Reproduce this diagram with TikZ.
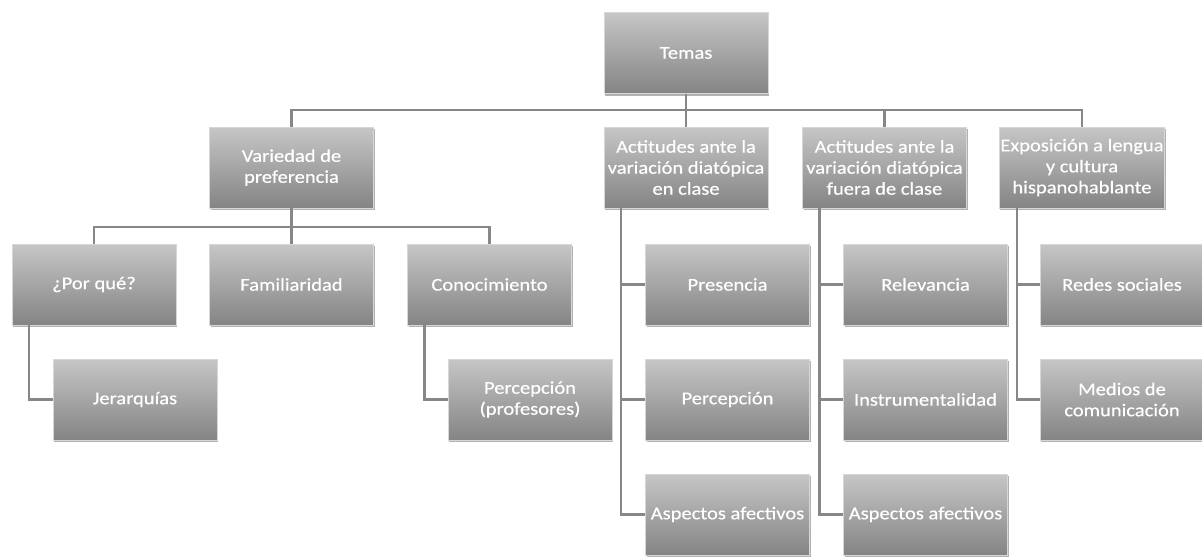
\documentclass[tikz,border=0pt]{standalone}
\usepackage{fontspec}
\setmainfont{Carlito}
\newfontfamily\boxfont[FakeStretch=1.14,FakeBold=0.5]{Carlito}
\usetikzlibrary{shadows}
\definecolor{boxtop}{RGB}{198,198,198}
\definecolor{boxbot}{RGB}{132,132,132}
\definecolor{linegray}{RGB}{135,135,135}
\tikzset{
  topic/.style={rectangle, minimum width=164pt, minimum height=81pt, inner sep=1pt,
    align=center, top color=boxtop, bottom color=boxbot,
    draw=boxtop!70!white, line width=0.4pt, text=white,
    font=\boxfont\fontsize{18}{21}\selectfont,
    drop shadow={shadow xshift=1pt, shadow yshift=-2pt, opacity=0.3, fill=black}},
  link/.style={draw=linegray, line width=2.4pt}
}
\begin{document}
\begin{tikzpicture}[x=1pt,y=-1pt]
\useasboundingbox[fill=white] (0,0) rectangle (1202,557);
% level 0
\node[topic] (temas) at (686,53) {Temas};
% level 1
\node[topic] (var) at (291.5,167.5) {Variedad de\\preferencia};
\node[topic] (acl) at (686,167.5) {Actitudes ante la\\variación diatópica\\en clase};
\node[topic] (afu) at (884.5,167.5) {Actitudes ante la\\variación diatópica\\fuera de clase};
\node[topic] (expo) at (1082,167.5) {Exposición a lengua\\y cultura\\hispanohablante};
% level 2 left
\node[topic] (pq) at (94,284.5) {¿Por qué?};
\node[topic] (fam) at (291.5,284.5) {Familiaridad};
\node[topic] (con) at (489.5,284.5) {Conocimiento};
% level 3 left
\node[topic] (jer) at (135,399.5) {Jerarquías};
\node[topic] (pp) at (530,399.5) {Percepción\\(profesores)};
% children of acl
\node[topic] (pres) at (727.5,284.5) {Presencia};
\node[topic] (perc) at (727.5,399.5) {Percepción};
\node[topic] (asp1) at (727.5,514.5) {Aspectos afectivos};
% children of afu
\node[topic] (rel) at (925.5,284.5) {Relevancia};
\node[topic] (ins) at (925.5,399.5) {Instrumentalidad};
\node[topic] (asp2) at (925.5,514.5) {Aspectos afectivos};
% children of expo
\node[topic] (red) at (1122,284.5) {Redes sociales};
\node[topic] (med) at (1122,399.5) {Medios de\\comunicación};
% connectors
\draw[link] (temas.south) -- (acl.north);
\draw[link] (var.north) -- ++(0,-17) -| (expo.north);
\draw[link] (afu.north) -- ++(0,-17);
\draw[link] (var.south) -- (fam.north);
\draw[link] (pq.north) -- ++(0,-17) -| (con.north);
\draw[link] ([xshift=-65pt]pq.south) |- (jer.west);
\draw[link] ([xshift=-65pt]con.south) |- (pp.west);
\draw[link] ([xshift=-65pt]acl.south) |- (asp1.west);
\draw[link] ([xshift=-65pt]acl.south) |- (pres.west);
\draw[link] ([xshift=-65pt]acl.south) |- (perc.west);
\draw[link] ([xshift=-65pt]afu.south) |- (asp2.west);
\draw[link] ([xshift=-65pt]afu.south) |- (rel.west);
\draw[link] ([xshift=-65pt]afu.south) |- (ins.west);
\draw[link] ([xshift=-65pt]expo.south) |- (med.west);
\draw[link] ([xshift=-65pt]expo.south) |- (red.west);
\end{tikzpicture}
\end{document}
